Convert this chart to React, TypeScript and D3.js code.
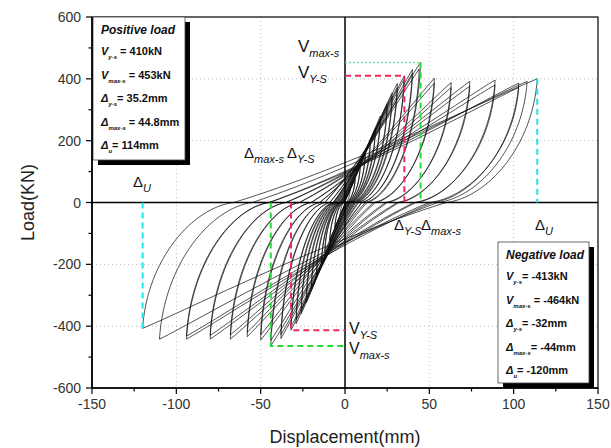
import React from "react";
import * as d3 from "d3";

const W = 611;
const H = 448;
const SANS = "'Liberation Sans', Arial, sans-serif";

// peaks of each loading cycle (mm, kN)
const posPeakDisp = [3, 6, 6, 9, 9, 12, 12, 15, 15, 18, 18, 21, 21, 25, 25, 28, 28, 31, 31, 35.2, 35, 40, 40, 44.8, 44, 53, 53, 63, 63, 74, 74, 89, 89, 103, 103, 108, 114];
const posPeakLoad = [40, 80, 76, 120, 115, 160, 154, 200, 193, 240, 232, 280, 271, 320, 310, 355, 344, 385, 372, 410, 398, 430, 418, 453, 432, 402, 386, 388, 372, 392, 376, 396, 380, 386, 372, 392, 400];
const negPeakDisp = [-3, -6, -6, -9, -9, -12, -12, -14, -14, -17, -17, -20, -20, -23, -23, -26, -26, -29, -29, -32, -32, -38, -38, -44, -44, -50, -50, -58, -58, -68, -68, -80, -80, -94, -94, -110, -120];
const negPeakLoad = [-42, -85, -80, -125, -120, -165, -158, -205, -198, -245, -236, -285, -276, -325, -315, -360, -349, -392, -380, -413, -402, -440, -428, -464, -446, -445, -428, -434, -420, -442, -428, -442, -430, -442, -432, -442, -407];
// displacement where unloading reaches zero load
const posResidual = [0.3, 0.6, 0.8, 1, 1.2, 1.5, 1.8, 2, 2.4, 2.5, 3, 3, 3.5, 4, 4.5, 5, 5.5, 6, 6.5, 8, 7.5, 10, 10, 13, 12, 18, 17, 25, 24, 32, 31, 42, 41, 52, 50, 55, 60];
const negResidual = [-0.3, -0.6, -0.8, -1, -1.2, -1.5, -1.8, -2, -2.4, -2.5, -3, -3, -3.5, -4, -4.5, -5, -5.5, -6, -6.5, -7, -7, -9, -9, -12, -12, -15, -15, -20, -20, -27, -27, -35, -35, -45, -45, -55, -66];

// characteristic points
const posYield = [35.2, 410];
const posMax = [44.8, 453];
const posUlt = [114, 400];
const negYield = [-32, -413];
const negMax = [-44, -464];
const negUlt = [-120, -407];

const posBox = [
  ["V", "y-s", " = 410kN"],
  ["V", "max-s", " = 453kN"],
  ["Δ", "y-s", "= 35.2mm"],
  ["Δ", "max-s", " = 44.8mm"],
  ["Δ", "u", "= 114mm"],
];
const negBox = [
  ["V", "y-s", "= -413kN"],
  ["V", "max-s", " = -464kN"],
  ["Δ", "y-s", "= -32mm"],
  ["Δ", "max-s", "= -44mm"],
  ["Δ", "u", "= -120mm"],
];

const xTicks = [-150, -100, -50, 0, 50, 100, 150];
const xMinor = [-125, -75, -25, 25, 75, 125];
const yTicks = [-600, -400, -200, 0, 200, 400, 600];
const yMinor = [-500, -300, -100, 100, 300, 500];
const xGrid = [-100, -50, 50, 100];
const yGrid = [-400, -200, 200, 400];

const x = d3.scaleLinear().domain([-150, 150]).range([92, 598]);
const y = d3.scaleLinear().domain([-600, 600]).range([388, 17]);

function reload(p: d3.Path, x0: number, A: number, P: number) {
  const d = A - x0;
  p.bezierCurveTo(x(x0 + 0.4 * d), y(0.3 * P), x(A - 0.15 * d), y(0.85 * P), x(A), y(P));
}

function unload(p: d3.Path, A: number, P: number, x0: number) {
  const d = x0 - A;
  p.bezierCurveTo(x(A + 0.05 * d), y(0.45 * P), x(x0 - 0.45 * d), y(0.04 * P), x(x0), y(0));
}

function loopPath(i: number) {
  const p = d3.path();
  p.moveTo(x(negResidual[i]), y(0));
  reload(p, negResidual[i], posPeakDisp[i], posPeakLoad[i]);
  unload(p, posPeakDisp[i], posPeakLoad[i], posResidual[i]);
  reload(p, posResidual[i], negPeakDisp[i], negPeakLoad[i]);
  unload(p, negPeakDisp[i], negPeakLoad[i], negResidual[i]);
  return p.toString();
}

function Sym({ px, py, main, sub, size = 16, subSize = 10 }: any) {
  return (
    <text x={px} y={py} fontFamily={SANS} fontSize={size} fill="#111">
      {main}
      <tspan fontSize={subSize} fontStyle="italic" dy={5}>{sub}</tspan>
    </text>
  );
}

function InfoBox({ bx, by, w, h, title, rows }: any) {
  return (
    <g>
      <rect x={bx + 5} y={by + 5} width={w} height={h} fill="#000" />
      <rect x={bx} y={by} width={w} height={h} fill="#fff" stroke="#444" strokeWidth={0.8} />
      <text x={bx + 8} y={by + 17} fontFamily={SANS} fontWeight="bold" fontStyle="italic" fontSize={12} fill="#111">
        {title}
      </text>
      {rows.map((r: string[], k: number) => (
        <text key={k} x={bx + 8} y={by + 38 + k * 23.5} fontFamily={SANS} fontWeight="bold" fontSize={11} fill="#111">
          <tspan fontStyle="italic">{r[0]}</tspan>
          <tspan fontSize={6} fontStyle="italic" dy={4}>{r[1]}</tspan>
          <tspan dy={-4}>{r[2]}</tspan>
        </text>
      ))}
    </g>
  );
}

export default function App() {
  const dash = { strokeWidth: 2, strokeDasharray: "6,4", fill: "none" };
  const red = "#f0285a";
  const green = "#22dd33";
  const cyan = "#22e0e8";
  return (
    <svg width={W} height={H} style={{ position: "absolute", left: 0, top: 0, background: "#fff" }}>
      {/* grid */}
      {xGrid.map((v) => (
        <line key={"gx" + v} x1={x(v)} x2={x(v)} y1={y(600)} y2={y(-600)} stroke="#bbb" strokeDasharray="1,3" />
      ))}
      {yGrid.map((v) => (
        <line key={"gy" + v} x1={x(-150)} x2={x(150)} y1={y(v)} y2={y(v)} stroke="#bbb" strokeDasharray="1,3" />
      ))}

      {/* hysteresis loops */}
      <g fill="none" stroke="#111" strokeWidth={0.85} strokeOpacity={0.85}>
        {posPeakDisp.map((_, i) => (
          <path key={i} d={loopPath(i)} />
        ))}
      </g>

      {/* zero lines */}
      <line x1={x(-150)} x2={x(150)} y1={y(0)} y2={y(0)} stroke="#000" strokeWidth={1.5} />
      <line x1={x(0)} x2={x(0)} y1={y(600)} y2={y(-600)} stroke="#000" strokeWidth={1.5} />

      {/* characteristic markers */}
      <path d={`M${x(0)},${y(posYield[1])}H${x(posYield[0])}V${y(0)}`} stroke={red} {...dash} />
      <path d={`M${x(0)},${y(posMax[1])}H${x(posMax[0])}`} stroke="#6ee0a8" strokeWidth={1.5} strokeDasharray="2,2" fill="none" />
      <path d={`M${x(posMax[0])},${y(posMax[1])}V${y(0)}`} stroke={green} {...dash} />
      <path d={`M${x(posUlt[0])},${y(posUlt[1])}V${y(0)}`} stroke={cyan} {...dash} />
      <path d={`M${x(negYield[0])},${y(0)}V${y(negYield[1])}H${x(0)}`} stroke={red} {...dash} />
      <path d={`M${x(negMax[0])},${y(0)}V${y(negMax[1])}H${x(0)}`} stroke={green} {...dash} />
      <path d={`M${x(negUlt[0])},${y(0)}V${y(negUlt[1])}`} stroke={cyan} {...dash} />

      {/* symbols */}
      <Sym px={298} py={52} main="V" sub="max-s" size={17} subSize={11} />
      <Sym px={298} py={78} main="V" sub="Y-S" size={17} subSize={11} />
      <Sym px={244} py={158} main="Δ" sub="max-s" size={15} subSize={11} />
      <text x={287} y={158} fontFamily={SANS} fontSize={15} fill="#111">
        Δ<tspan fontSize={11} fontStyle="italic" dy={5}>Y-S</tspan>
      </text>
      <Sym px={133} py={187} main="Δ" sub="U" size={15} subSize={11} />
      <Sym px={394} py={230} main="Δ" sub="Y-S" size={15} subSize={11} />
      <Sym px={421} py={230} main="Δ" sub="max-s" size={15} subSize={11} />
      <Sym px={535} py={230} main="Δ" sub="U" size={15} subSize={11} />
      <Sym px={349} py={334} main="V" sub="Y-S" size={16} subSize={11} />
      <Sym px={349} py={354} main="V" sub="max-s" size={16} subSize={11} />

      {/* frame */}
      <rect x={x(-150)} y={y(600)} width={x(150) - x(-150)} height={y(-600) - y(600)} fill="none" stroke="#000" strokeWidth={1.2} />

      {/* info boxes */}
      <InfoBox bx={93} by={17} w={92} h={143} title="Positive load" rows={posBox} />
      <InfoBox bx={498} by={242} w={91} h={141} title="Negative load" rows={negBox} />

      {/* axes */}
      <line x1={x(-150)} x2={x(150)} y1={y(-600)} y2={y(-600)} stroke="#000" strokeWidth={1.6} />
      <line x1={x(-150)} x2={x(-150)} y1={y(600)} y2={y(-600)} stroke="#000" strokeWidth={1.6} />
      {xTicks.map((v) => (
        <g key={"xt" + v}>
          <line x1={x(v)} x2={x(v)} y1={y(-600)} y2={y(-600) + 6} stroke="#000" strokeWidth={1.2} />
          <text x={x(v)} y={409} textAnchor="middle" fontFamily={SANS} fontSize={14} fill="#333">
            {v}
          </text>
        </g>
      ))}
      {xMinor.map((v) => (
        <line key={"xm" + v} x1={x(v)} x2={x(v)} y1={y(-600)} y2={y(-600) + 3.5} stroke="#000" strokeWidth={1.2} />
      ))}
      {yTicks.map((v) => (
        <g key={"yt" + v}>
          <line x1={x(-150) - 6} x2={x(-150)} y1={y(v)} y2={y(v)} stroke="#000" strokeWidth={1.2} />
          <text x={81} y={y(v) + 5} textAnchor="end" fontFamily={SANS} fontSize={14} fill="#333">
            {v}
          </text>
        </g>
      ))}
      {yMinor.map((v) => (
        <line key={"ym" + v} x1={x(-150) - 3.5} x2={x(-150)} y1={y(v)} y2={y(v)} stroke="#000" strokeWidth={1.2} />
      ))}
      <text x={345} y={443} textAnchor="middle" fontFamily={SANS} fontSize={18} fill="#222">
        Displacement(mm)
      </text>
      <text transform={`translate(34,${y(0)}) rotate(-90)`} textAnchor="middle" fontFamily={SANS} fontSize={18} fill="#222">
        Load(KN)
      </text>
    </svg>
  );
}
